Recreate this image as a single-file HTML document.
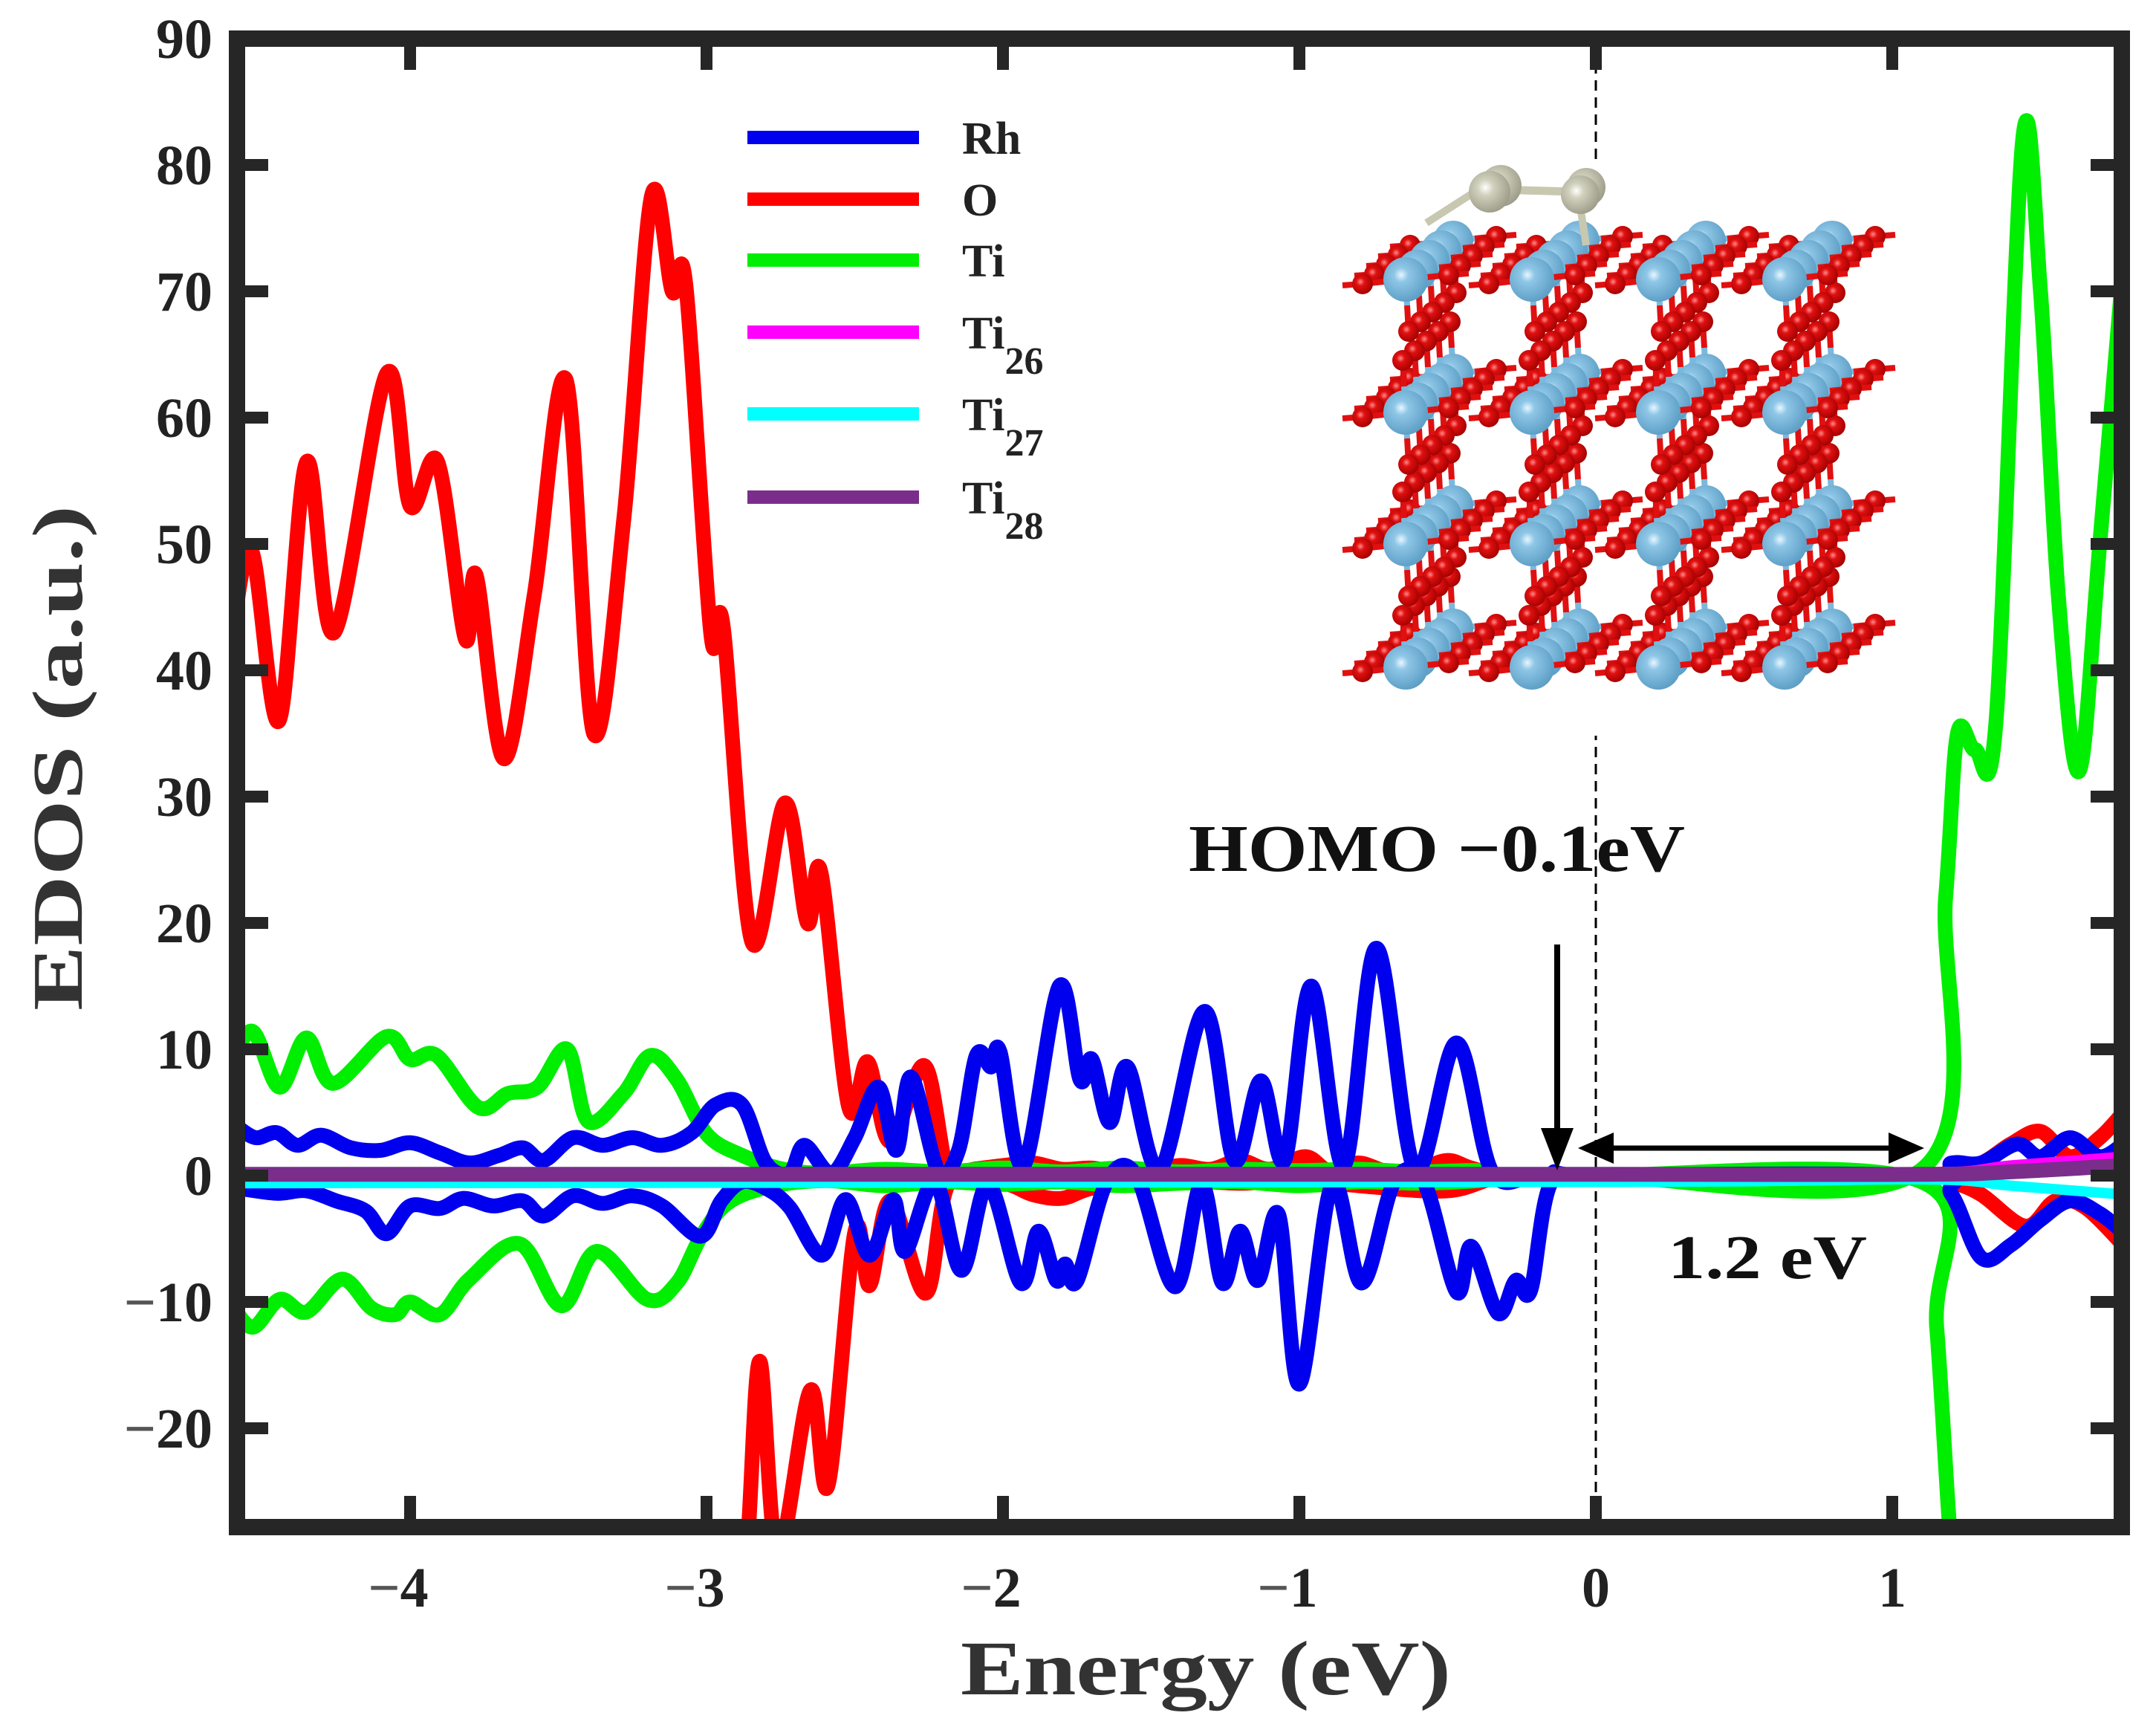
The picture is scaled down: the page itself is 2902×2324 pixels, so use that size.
<!DOCTYPE html>
<html><head><meta charset="utf-8"><style>
html,body{margin:0;padding:0;background:#fff;overflow:hidden;width:2902px;height:2324px;position:relative;}
svg{display:block;position:absolute;left:0;top:0;}
</style></head><body>
<svg id="chart" width="2902" height="2324" viewBox="0 0 2902 2324" xmlns="http://www.w3.org/2000/svg" font-family="'Liberation Serif', serif">
<defs>
<clipPath id="plotclip"><rect x="319" y="52" width="2537" height="2003"/></clipPath>
<radialGradient id="tiGrad" cx="0.4" cy="0.4" r="0.65"><stop offset="0" stop-color="#e8f6ff"/><stop offset="0.25" stop-color="#8ec6e6"/><stop offset="1" stop-color="#5a9cc4"/></radialGradient>
<radialGradient id="oGrad" cx="0.4" cy="0.4" r="0.65"><stop offset="0" stop-color="#ff8a8a"/><stop offset="0.3" stop-color="#e01010"/><stop offset="1" stop-color="#a00000"/></radialGradient>
<radialGradient id="cGrad" cx="0.4" cy="0.4" r="0.65"><stop offset="0" stop-color="#ffffff"/><stop offset="0.3" stop-color="#d0d0bc"/><stop offset="1" stop-color="#9a9a86"/></radialGradient>
</defs>
<rect x="0" y="0" width="2902" height="2324" fill="#fff"/>
<g id="zeroLineG"></g>
<g id="inset"></g>
<g id="series" clip-path="url(#plotclip)"></g>
<g id="axes"></g>
<g id="legend"></g>
<g id="annot"></g>
</svg>
<script>
// ---- data ----
const xTicks = [-4, -3, -2, -1, 0, 1];
const yTicks = [-20, -10, 0, 10, 20, 30, 40, 50, 60, 70, 80, 90];

const rhUpE = [-4.58,-4.52,-4.45,-4.38,-4.3,-4.2,-4.1,-4.0,-3.9,-3.8,-3.7,-3.62,-3.55,-3.45,-3.35,-3.25,-3.15,-3.05,-2.97,-2.88,-2.8,-2.72,-2.67,-2.58,-2.5,-2.42,-2.36,-2.31,-2.22,-2.15,-2.09,-2.04,-2.01,-1.93,-1.81,-1.74,-1.70,-1.64,-1.58,-1.47,-1.32,-1.22,-1.13,-1.05,-0.96,-0.85,-0.74,-0.61,-0.47,-0.35,-0.2,0,1.1,1.2,1.3,1.42,1.5,1.6,1.7,1.78];
const rhUpV = [3.8,3.0,3.4,2.4,3.2,2.2,2.0,2.6,1.8,1.0,1.6,2.2,1.2,3.0,2.4,3.0,2.4,3.4,5.6,5.6,1.0,0.2,2.4,0.2,3.0,7.0,2.0,7.8,0.5,2.0,9.5,8.6,9.8,0.8,15,7.6,9.2,4.2,8.6,0.5,13,1.2,7.5,1.2,15,0.8,18,0.5,10.5,0.3,0,0,0,1.0,1.0,2.5,1.5,3.0,1.5,2.5];
const rhDnE = [-4.58,-4.45,-4.35,-4.25,-4.15,-4.08,-4.0,-3.9,-3.82,-3.72,-3.62,-3.55,-3.45,-3.35,-3.25,-3.15,-3.02,-2.95,-2.88,-2.8,-2.72,-2.61,-2.53,-2.45,-2.37,-2.33,-2.23,-2.14,-2.05,-1.94,-1.88,-1.82,-1.79,-1.75,-1.65,-1.55,-1.42,-1.33,-1.26,-1.20,-1.14,-1.07,-1.0,-0.89,-0.79,-0.68,-0.58,-0.47,-0.42,-0.33,-0.27,-0.22,-0.15,0,1.1,1.2,1.3,1.4,1.5,1.6,1.7,1.78];
const rhDnV = [-1.0,-1.4,-1.2,-2.0,-2.8,-4.6,-2.4,-2.6,-1.8,-2.4,-2.0,-3.2,-1.6,-2.2,-1.6,-2.4,-4.8,-2.0,-0.5,-1.0,-2.5,-6.3,-1.9,-6.3,-1.9,-6.0,-0.5,-7.5,-0.7,-8.5,-4.4,-8.3,-7.0,-8.3,-0.5,0,-8.8,-0.7,-8.5,-4.4,-8.3,-3.1,-16.5,-0.7,-8.5,-0.5,-0.5,-9.2,-5.6,-10.9,-8.3,-9.1,-0.5,0,0,-1.5,-6.5,-5.5,-3.5,-2.0,-3.0,-4.5];

const oUpE = [-4.605,-4.535,-4.442,-4.349,-4.256,-4.079,-4.0,-3.907,-3.814,-3.777,-3.684,-3.581,-3.474,-3.381,-3.279,-3.186,-3.116,-3.07,-2.986,-2.944,-2.847,-2.735,-2.66,-2.614,-2.521,-2.456,-2.381,-2.265,-2.186,-2.1,-2.0,-1.9,-1.8,-1.7,-1.6,-1.5,-1.4,-1.3,-1.2,-1.1,-0.98,-0.9,-0.8,-0.7,-0.6,-0.5,-0.42,-0.3,0,1.1,1.2,1.3,1.4,1.5,1.6,1.7,1.78];
const oUpV = [42,49.5,36,56.5,43,63.5,53,56.5,42.5,47.5,33,46,63,35,52,77.5,70,70.5,43,43.5,18.5,29.5,20,24,5.5,9,2.7,8.7,0.3,0.5,0.8,1.0,0.5,0.6,0.2,0.4,0.8,0.5,1.2,0.5,1.5,0.4,1.0,0.3,0.5,1.2,0.6,0,0,0,0.8,1.0,2.5,3.5,1.5,3.0,5.0];
const oDnE = [-4.605,-4.535,-4.442,-4.349,-4.256,-4.079,-4.0,-3.907,-3.814,-3.684,-3.474,-3.381,-3.186,-3.07,-2.986,-2.9,-2.86,-2.82,-2.76,-2.65,-2.59,-2.5,-2.45,-2.38,-2.26,-2.18,-2.0,-1.9,-1.8,-1.7,-1.5,-1.2,-1.0,-0.8,-0.5,-0.3,0,1.1,1.2,1.3,1.45,1.55,1.65,1.78];
const oDnV = [-45,-50,-38,-56,-44,-63,-53,-56,-43,-33,-63,-36,-77,-70,-43,-40,-28.5,-14.7,-30,-17,-24.5,-4.5,-8.7,-2,-9.3,-0.5,-0.6,-1.5,-1.8,-1.0,-0.3,-0.6,-0.3,-0.8,-1.2,0,0,0,-0.5,-1.5,-4.0,-2.0,-2.5,-5.5];

const tiUpE = [-4.6,-4.53,-4.44,-4.35,-4.26,-4.08,-4.0,-3.91,-3.77,-3.67,-3.57,-3.47,-3.4,-3.28,-3.19,-3.1,-3.0,-2.88,-2.74,-2.6,-2.4,-2.2,-2.0,-1.8,-1.6,-1.4,-1.2,-1.0,-0.8,-0.6,-0.4,-0.3,0,1.1,1.18,1.22,1.28,1.35,1.44,1.5,1.56,1.63,1.7,1.79];
const tiUpV = [9.2,11.4,7,10.9,7.3,11,9.2,9.5,5.4,6.5,7,10,4.3,6.5,9.5,7.6,3.3,1.6,0.5,0.2,0.5,0.3,0.6,0.3,0.6,0.3,0.5,0.4,0.5,0.3,0.4,0,0,0.5,22,35,33.7,36,82,70,46,32,50,75];
const tiDnE = [-4.6,-4.53,-4.44,-4.35,-4.23,-4.13,-4.05,-4.0,-3.9,-3.8,-3.63,-3.49,-3.37,-3.2,-3.1,-3.02,-2.93,-2.79,-2.6,-2.4,-2.2,-2.0,-1.8,-1.6,-1.4,-1.2,-1.0,-0.8,-0.6,-0.4,-0.3,0,1.1,1.15,1.2,1.25];
const tiDnV = [-10.3,-12,-9.8,-10.8,-8.2,-10.5,-11,-10,-11,-8.2,-5.4,-10.3,-6,-9.8,-8.5,-4.9,-2.2,-0.9,-0.4,-0.8,-0.5,-0.7,-0.5,-0.8,-0.6,-0.5,-0.8,-0.5,-0.6,-0.4,0,0,-0.5,-12,-30,-40];

const ti26E = [-4.6,0,1.1,1.4,1.78];
const ti26V = [0.2,0.2,0.2,0.8,1.5];
const ti27E = [-4.6,0,1.1,1.4,1.78];
const ti27V = [-0.6,-0.5,-0.3,-0.8,-1.5];
const ti28E = [-4.6,0,1.1,1.4,1.78];
const ti28V = [0.1,0.1,0.1,0.3,0.8];

// ---- scales ----
const X0 = 2148, XS = 399, Y0 = 1582, YS = 17;
function sx(e){ return X0 + XS*e; }
function sy(v){ return Y0 - YS*v; }
const L = 319, R = 2856, T = 52, B = 2055;
const NS = 'http://www.w3.org/2000/svg';
function mk(tag, attrs, parent){
  const el = document.createElementNS(NS, tag);
  for (const k in attrs) el.setAttribute(k, attrs[k]);
  if (parent) parent.appendChild(el);
  return el;
}
function smoothPath(E, V){
  const p = E.map((e,i)=>[sx(e), sy(V[i])]);
  let d = 'M' + p[0][0].toFixed(1) + ',' + p[0][1].toFixed(1);
  for (let i=0;i<p.length-1;i++){
    const p0 = p[Math.max(0,i-1)], p1 = p[i], p2 = p[i+1], p3 = p[Math.min(p.length-1,i+2)];
    const c1x = p1[0]+(p2[0]-p0[0])/6, c1y = p1[1]+(p2[1]-p0[1])/6;
    const c2x = p2[0]-(p3[0]-p1[0])/6, c2y = p2[1]-(p3[1]-p1[1])/6;
    d += ' C'+c1x.toFixed(1)+','+c1y.toFixed(1)+' '+c2x.toFixed(1)+','+c2y.toFixed(1)+' '+p2[0].toFixed(1)+','+p2[1].toFixed(1);
  }
  return d;
}

// zero dashed line
const zg = document.getElementById('zeroLineG');
const zl = mk('line', {x1: sx(0), x2: sx(0), y1: T+10, y2: B-10, stroke:'#000', 'stroke-width':3, 'stroke-dasharray':'14 9'}, zg);



// ---- inset crystal ----
const ig = document.getElementById('inset');
mk('rect', {x:1775, y:215, width:810, height:775, fill:'#fff'}, ig);
const cols = [1892, 2062, 2232, 2402];
const rows = [376, 555, 732, 898];
function sphere(x,y,r,g){ return mk('circle',{cx:x,cy:y,r:r,fill:'url(#'+g+')'}, ig); }
function bond(x1,y1,x2,y2){
  const mx=(x1+x2)/2, my=(y1+y2)/2;
  mk('line',{x1:x1,y1:y1,x2:mx,y2:my,stroke:'#7ab8dc','stroke-width':8}, ig);
  mk('line',{x1:mx,y1:my,x2:x2,y2:y2,stroke:'#e01010','stroke-width':8}, ig);
}
for (let d=4; d>=0; d--){
  const ox = d*16, oy = -d*13;
  for (let r=0;r<4;r++){
    for (let c=0;c<4;c++){
      const x = cols[c]+ox, y = rows[r]+oy;
      bond(x, y, x+58, y-6); bond(x, y, x-58, y+6);
      bond(x+58, y-6, x+85, y-8); bond(x-58, y+6, x-85, y+8);
      if (r<3) bond(x, y, x+4, y+70);
      if (r>0) bond(x, y, x-4, y-70);
    }
  }
  for (let r=0;r<4;r++){
    for (let c=0;c<4;c++){
      const x = cols[c]+ox, y = rows[r]+oy;
      sphere(x+58, y-6, 14, 'oGrad'); sphere(x-58, y+6, 14, 'oGrad');
      if (r<3) sphere(x+4, y+70, 14, 'oGrad');
      if (r>0) sphere(x-4, y-70, 14, 'oGrad');
      sphere(x, y, d===0?30:27, 'tiGrad');
    }
  }
}
// adsorbed molecule
mk('line',{x1:1990,y1:255,x2:1920,y2:300,stroke:'#c8c8b0','stroke-width':10}, ig);
mk('line',{x1:2010,y1:255,x2:2120,y2:258,stroke:'#c8c8b0','stroke-width':11}, ig);
mk('line',{x1:2125,y1:265,x2:2135,y2:330,stroke:'#c8c8b0','stroke-width':10}, ig);
sphere(2020,250,28,'cGrad'); sphere(2005,258,28,'cGrad');
sphere(2135,252,26,'cGrad'); sphere(2127,262,26,'cGrad');

// ---- series ----
const sg = document.getElementById('series');
const seriesList = [
  ['o-up', oUpE, oUpV, '#ff0000', 20],
  ['o-down', oDnE, oDnV, '#ff0000', 20],
  ['ti-up', tiUpE, tiUpV, '#00ee00', 20],
  ['ti-down', tiDnE, tiDnV, '#00ee00', 20],
  ['rh-up', rhUpE, rhUpV, '#0000ee', 20],
  ['rh-down', rhDnE, rhDnV, '#0000ee', 20],
  ['ti26', ti26E, ti26V, '#ff00ff', 14],
  ['ti27', ti27E, ti27V, '#00ffff', 14],
  ['ti28', ti28E, ti28V, '#7b2d8b', 20]
];
seriesList.forEach(s=>{
  const p = mk('path', {d: smoothPath(s[1], s[2]), fill:'none', stroke:s[3], 'stroke-width':s[4], 'stroke-linejoin':'round', 'stroke-linecap':'round'}, sg);
  
  
});

// ---- axes ----
const ag = document.getElementById('axes');
const frame = mk('rect', {x:L, y:T, width:R-L, height:B-T, fill:'none', stroke:'#262626', 'stroke-width':22}, ag);


xTicks.forEach(t=>{
  const x = sx(t);
  mk('line',{x1:x,x2:x,y1:B-11,y2:B-42,stroke:'#262626','stroke-width':16}, ag);
  mk('line',{x1:x,x2:x,y1:T+11,y2:T+42,stroke:'#262626','stroke-width':16}, ag);
  const tx = mk('text',{x: x + (t<0?-16:0), y:2162, 'text-anchor':'middle','font-size':76,'font-weight':'bold', fill:'#222'}, ag);
  
  
  if (t<0){
    const m = mk('tspan',{fill:'#555'}, tx); m.textContent = '\u2212';
    const n = mk('tspan',{}, tx); n.textContent = String(-t);
  } else tx.textContent = String(t);
});
yTicks.forEach(t=>{
  const y = sy(t);
  mk('line',{x1:L+11,x2:L+42,y1:y,y2:y,stroke:'#262626','stroke-width':16}, ag);
  mk('line',{x1:R-11,x2:R-42,y1:y,y2:y,stroke:'#262626','stroke-width':16}, ag);
  const tx = mk('text',{x:286, y:y+26, 'text-anchor':'end','font-size':76,'font-weight':'bold', fill:'#222'}, ag);
  
  
  if (t<0){
    const m = mk('tspan',{fill:'#555'}, tx); m.textContent = '\u2212';
    const n = mk('tspan',{}, tx); n.textContent = String(-t);
  } else tx.textContent = String(t);
});
const xt = mk('text',{x:1623, y:2280, 'text-anchor':'middle','font-size':104,'font-weight':'bold',fill:'#333', textLength:660, lengthAdjust:'spacingAndGlyphs'}, ag);
xt.textContent = 'Energy  (eV)';


const yt = mk('text',{x:0, y:0, transform:'translate(110,1020) rotate(-90)', 'text-anchor':'middle','font-size':96,'font-weight':'bold',fill:'#333', textLength:680, lengthAdjust:'spacingAndGlyphs'}, ag);
yt.textContent = 'EDOS  (a.u.)';



// ---- legend ----
const lg = document.getElementById('legend');
const legNames = ['Rh','O','Ti','Ti','Ti','Ti'];
const legSubs = ['','','','26','27','28'];
const legColors = ['#0000ee','#ff0000','#00ee00','#ff00ff','#00ffff','#7b2d8b'];
const legRows = [185, 268, 350, 447, 557, 669];
legNames.forEach((n,i)=>{
  const y = legRows[i];
  const ln = mk('line',{x1:1006,x2:1237,y1:y,y2:y,stroke:legColors[i],'stroke-width':18}, lg);
  
  
  const tx = mk('text',{x:1295, y:y+22, 'font-size':62,'font-weight':'bold', fill:'#222'}, lg);
  
  
  const a = mk('tspan',{}, tx); a.textContent = n;
  if (legSubs[i]){ const b = mk('tspan',{dy:34,'font-size':52}, tx); b.textContent = legSubs[i]; }
});

// ---- annotations ----
const ng = document.getElementById('annot');
const homo = mk('text',{x:1600, y:1172, 'font-size':90,'font-weight':'bold',fill:'#111', textLength:668, lengthAdjust:'spacingAndGlyphs'}, ng);
homo.textContent = 'HOMO \u22120.1eV';


const gap = mk('text',{x:2245, y:1720, 'font-size':84,'font-weight':'bold',fill:'#111', textLength:268, lengthAdjust:'spacingAndGlyphs'}, ng);
gap.textContent = '1.2 eV';


const va = mk('g',{}, ng);


mk('line',{x1:2096,x2:2096,y1:1271,y2:1520,stroke:'#000','stroke-width':8}, va);
mk('polygon',{points:'2074,1518 2118,1518 2096,1575', fill:'#000'}, va);
const ha = mk('g',{}, ng);


mk('line',{x1:2160,x2:2545,y1:1545,y2:1545,stroke:'#000','stroke-width':7}, ha);
mk('polygon',{points:'2124,1545 2172,1524 2172,1566', fill:'#000'}, ha);
mk('polygon',{points:'2590,1545 2542,1524 2542,1566', fill:'#000'}, ha);
</script>
</body></html>
